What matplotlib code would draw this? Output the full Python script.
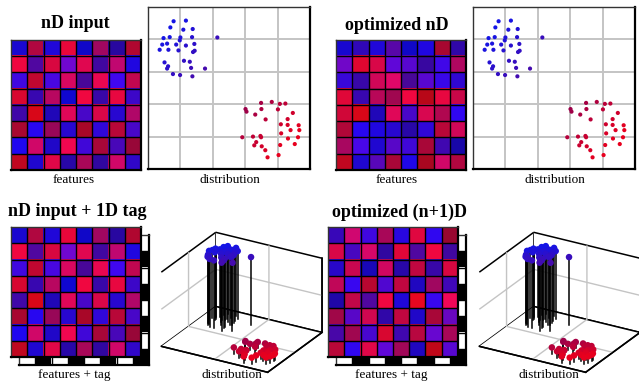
import numpy as np
import matplotlib
matplotlib.use("Agg")
import matplotlib.pyplot as plt
from matplotlib.colors import LinearSegmentedColormap

W, H = 639, 384

# 2D distribution: two clusters
blue_x = [0.79, 1.17, 0.69, 1.09, 1.38, 0.48, 0.67, 1.00, 1.36, 2.14, 0.98, 0.44, 0.59, 0.87, 1.17, 1.43,
          0.36, 0.63, 0.94, 1.39, 1.44, 0.51, 1.11, 1.29, 0.62, 0.59, 1.33, 1.76, 0.77, 0.99, 1.37]
blue_y = [4.56, 4.58, 4.37, 4.30, 4.32, 4.04, 4.07, 4.06, 4.07, 4.06, 3.97, 3.84, 3.87, 3.84, 3.81, 3.86,
          3.68, 3.68, 3.66, 3.61, 3.65, 3.29, 3.34, 3.31, 3.17, 3.10, 3.12, 3.10, 2.93, 2.90, 2.86]
red_x = [3.49, 3.82, 4.07, 4.24, 3.01, 3.04, 3.50, 4.01, 4.47, 3.31, 3.63, 4.31, 4.10, 4.31, 4.65, 4.40,
         4.67, 2.91, 3.24, 3.49, 3.47, 4.11, 4.32, 4.63, 3.34, 3.28, 3.51, 4.08, 4.53, 3.62, 3.69, 4.03]
red_y = [2.04, 2.07, 2.01, 2.02, 1.85, 1.77, 1.85, 1.84, 1.73, 1.68, 1.53, 1.54, 1.38, 1.36, 1.35, 1.20,
         1.20, 0.98, 1.00, 0.98, 1.02, 1.10, 0.94, 0.98, 0.83, 0.73, 0.70, 0.74, 0.77, 0.58, 0.36, 0.43]
tag_blue = 1.0
tag_red = 0.0

# feature matrices: red / blue intensity of each cell (0-255)
input_r = [[26, 176, 32, 232, 16, 160, 40, 176],
           [240, 80, 216, 112, 224, 64, 192, 32],
           [64, 192, 72, 216, 72, 232, 64, 192],
           [216, 56, 184, 16, 240, 56, 232, 60],
           [64, 216, 32, 224, 72, 216, 40, 176],
           [168, 40, 152, 40, 168, 48, 184, 72],
           [32, 208, 32, 240, 64, 168, 72, 152],
           [192, 32, 224, 40, 168, 48, 208, 48]]
input_b = [[208, 64, 216, 58, 200, 96, 160, 48],
           [64, 160, 64, 208, 80, 160, 112, 224],
           [224, 48, 224, 96, 152, 80, 240, 80],
           [48, 176, 96, 208, 64, 168, 64, 200],
           [168, 24, 184, 88, 200, 72, 208, 104],
           [48, 240, 88, 208, 40, 216, 56, 200],
           [240, 104, 200, 80, 216, 56, 184, 56],
           [32, 208, 72, 168, 88, 160, 104, 200]]
opt_r = [[24, 48, 32, 88, 16, 32, 168, 48],
         [112, 224, 216, 96, 88, 56, 64, 176],
         [56, 56, 208, 224, 72, 88, 56, 48],
         [224, 56, 184, 160, 240, 184, 232, 200],
         [208, 216, 32, 224, 72, 216, 176, 48],
         [176, 40, 32, 40, 40, 48, 184, 208],
         [168, 72, 32, 88, 64, 168, 64, 24],
         [192, 32, 88, 168, 32, 168, 208, 176]]
opt_b = [[208, 184, 216, 168, 200, 224, 48, 168],
         [200, 48, 72, 216, 208, 160, 232, 96],
         [216, 168, 88, 104, 152, 208, 232, 208],
         [56, 176, 88, 80, 64, 24, 64, 72],
         [56, 24, 184, 88, 200, 80, 80, 240],
         [56, 240, 224, 208, 168, 216, 56, 88],
         [96, 232, 208, 200, 216, 56, 176, 168],
         [32, 208, 184, 56, 232, 32, 104, 64]]
opt1_r = [[56, 208, 64, 168, 40, 224, 48, 152],
          [216, 72, 216, 48, 224, 80, 240, 64],
          [40, 200, 24, 208, 40, 192, 56, 216],
          [192, 56, 184, 80, 192, 32, 160, 64],
          [32, 192, 80, 240, 32, 232, 56, 240],
          [160, 88, 208, 48, 192, 32, 168, 104],
          [72, 160, 72, 216, 64, 184, 104, 168],
          [184, 48, 224, 96, 160, 32, 192, 88]]
opt1_b = [[184, 112, 224, 88, 224, 64, 240, 48],
          [72, 192, 104, 160, 56, 160, 64, 160],
          [200, 80, 184, 96, 168, 64, 168, 64],
          [88, 240, 48, 208, 64, 192, 96, 184],
          [168, 72, 160, 64, 216, 32, 240, 88],
          [72, 200, 80, 168, 64, 200, 56, 192],
          [168, 80, 208, 48, 176, 64, 208, 88],
          [56, 240, 72, 216, 88, 192, 24, 208]]
tag_grid = [[0, 1, 0, 1, 0, 1, 0, 1],
            [1, 0, 1, 0, 1, 0, 1, 0],
            [0, 1, 0, 1, 0, 1, 0, 1],
            [1, 0, 1, 0, 1, 0, 1, 0],
            [0, 1, 0, 1, 0, 1, 0, 1],
            [1, 0, 1, 0, 1, 0, 1, 0],
            [0, 1, 0, 1, 0, 1, 0, 1],
            [1, 0, 1, 0, 1, 0, 1, 0]]

cmap = LinearSegmentedColormap.from_list(
    "br", [(0, "#1414e6"), (0.35, "#4a0aa8"), (0.62, "#900050"), (1, "#e8001e")])
GRID = "#c4c4c4"


def px(x0, y0, x1, y1):
    return [x0 / W, 1 - y1 / H, (x1 - x0) / W, (y1 - y0) / H]


def frame(ax):
    ax.set_xticks([])
    ax.set_yticks([])
    for side in ("top", "left"):
        ax.spines[side].set_color("#333333")
        ax.spines[side].set_linewidth(1)
    for side in ("bottom", "right"):
        ax.spines[side].set_color("black")
        ax.spines[side].set_linewidth(1.6)


def cell_grid(ax, n=8):
    for k in range(1, n):
        ax.axhline(k, color="black", lw=1)
        ax.axvline(k, color="black", lw=1)
    ax.set_xlim(0, n)
    ax.set_ylim(n, 0)
    frame(ax)


def heatmap(box, r, b):
    ax = fig.add_axes(px(*box))
    rgb = np.zeros((8, 8, 3))
    rgb[..., 0] = np.array(r) / 255
    rgb[..., 1] = 0.03
    rgb[..., 2] = np.array(b) / 255
    ax.imshow(rgb, extent=(0, 8, 8, 0), aspect="auto", interpolation="nearest")
    cell_grid(ax)
    return ax


def tag_layer(box):
    ax = fig.add_axes(px(*box))
    ax.imshow(np.array(tag_grid), cmap="gray", vmin=0, vmax=1,
              extent=(0, 8, 8, 0), aspect="auto", interpolation="nearest")
    cell_grid(ax)


def scatter2d(box):
    ax = fig.add_axes(px(*box))
    ax.set_xlim(0, 5)
    ax.set_ylim(0, 5)
    ax.vlines([1, 2, 3, 4], 0, 5, colors=GRID, lw=1.4, zorder=1)
    ax.hlines([1, 2, 3, 4], 0, 5, colors=GRID, lw=1.4, zorder=1)
    ax.scatter(blue_x, blue_y, c=np.array(blue_x) - np.array(blue_y), cmap=cmap,
               vmin=-3.6, vmax=3.5, s=9, linewidths=0, zorder=3)
    ax.scatter(red_x, red_y, c=np.array(red_x) - np.array(red_y), cmap=cmap,
               vmin=-3.6, vmax=3.5, s=9, linewidths=0, zorder=3)
    frame(ax)


def scatter3d(box):
    ax = fig.add_axes(px(*box), projection="3d", computed_zorder=False)
    ax.patch.set_alpha(0)
    ax.set_proj_type("ortho")
    ax.view_init(elev=25, azim=-60)
    ax.set_box_aspect((1.5, 1.33, 1), zoom=0.89)
    for axis in (ax.xaxis, ax.yaxis, ax.zaxis):
        axis.set_pane_color((1, 1, 1, 1))
        axis.pane.set_edgecolor("black")
        axis.pane.set_linewidth(1.1)
        axis._axinfo["grid"].update(color=GRID, linewidth=1.0)
        axis._axinfo["tick"].update(inward_factor=0, outward_factor=0)
        axis.line.set_linewidth(1.1)
    ax.set_xlim(0, 5)
    ax.set_ylim(0, 5)
    ax.set_zlim(-0.1, 1.1)
    ax.set_xticks([2.5])
    ax.set_yticks([2.5])
    ax.set_zticks([0.5])
    ax.set_xticklabels([])
    ax.set_yticklabels([])
    ax.set_zticklabels([])
    xs = blue_x + red_x
    ys = blue_y + red_y
    zs = [tag_blue] * len(blue_x) + [tag_red] * len(red_x)
    for x, y, z in zip(xs, ys, zs):
        ax.plot([x, x], [y, y], [-0.1, z], color="black", lw=1.1, zorder=2)
    ax.scatter(xs, ys, zs, c=np.array(xs) - np.array(ys), cmap=cmap, vmin=-3.6, vmax=3.5,
               s=22, depthshade=False, linewidths=0, zorder=3)
    return ax


fig = plt.figure(figsize=(W / 100, H / 100), dpi=100)

# top row
heatmap((11, 40, 141, 170), input_r, input_b)
scatter2d((148, 7, 310, 169))
heatmap((336, 40, 466, 170), opt_r, opt_b)
scatter2d((473, 7, 635, 169))

# bottom row
scatter3d((139, 205, 339, 405))
tag_layer((19, 235, 149, 365))
heatmap((11, 227, 141, 357), input_r, input_b)
scatter3d((457, 205, 657, 405))
tag_layer((336, 235, 466, 365))
heatmap((328, 227, 458, 357), opt1_r, opt1_b)

serif = ["Liberation Serif", "DejaVu Serif"]
titles = [("nD input", 75, 24), ("optimized nD", 397, 25),
          ("nD input + 1D tag", 77, 212), ("optimized (n+1)D", 399, 212)]
for t, x, y in titles:
    fig.text(x / W, 1 - y / H, t, ha="center", va="center", fontsize=13,
             fontweight="bold", family=serif)
labels = [("features", 74, 180), ("distribution", 230, 180),
          ("features", 397, 180), ("distribution", 555, 180),
          ("features + tag", 74, 375), ("distribution", 232, 375),
          ("features + tag", 391, 375), ("distribution", 549, 375)]
for t, x, y in labels:
    fig.text(x / W, 1 - y / H, t, ha="center", va="center", fontsize=9.5, family=serif)

fig.savefig("out.png", dpi=100)
